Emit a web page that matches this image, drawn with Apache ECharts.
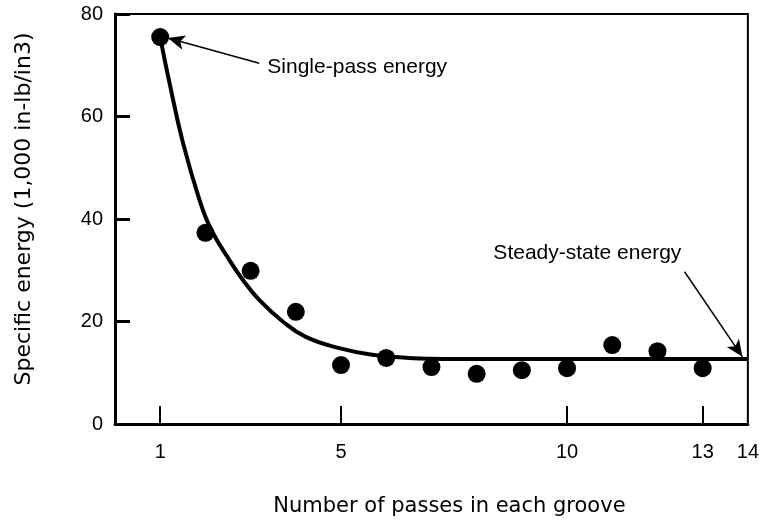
<!DOCTYPE html>
<html>
<head>
<meta charset="utf-8">
<title>Specific energy vs. number of passes</title>
<script src="https://cdn.jsdelivr.net/npm/echarts@6/dist/echarts.min.js"></script>
<style>
  html, body { margin: 0; padding: 0; background: #fff; }
  #chart { width: 762px; height: 524px; }
</style>
</head>
<body>
<div id="chart"></div>
<script>
// Measured specific energy for each pass number
const passes = [1, 2, 3, 4, 5, 6, 7, 8, 9, 10, 11, 12, 13];
const energy = [75.5, 37.3, 29.9, 21.9, 11.5, 12.9, 11.1, 9.8, 10.5, 10.9, 15.4, 14.2, 10.9];

// Trend curve through the data, levelling off at the steady-state value
const curvePasses = [1, 1.2, 1.5, 1.87, 2.13, 2.53, 2.83, 3.19, 3.71, 4.22, 4.96, 5.69, 6.5, 7.5, 14];
const curveEnergy = [75.5, 66.8, 55, 43.7, 37.9, 32, 28.1, 24.2, 20.0, 17.0, 14.8, 13.5, 12.9, 12.7, 12.7];

// Axis ticks and labels
const xTickValues = [1, 5, 10, 13];
const xLabelValues = [1, 5, 10, 13, 14];
const yTickLabels = [0, 20, 40, 60, 80];

// Annotations: text anchor and arrow tail/head in data units
const notes = [
  { text: 'Single-pass energy', at: [3.37, 69.7], tail: [3.19, 70.4], head: [1.17, 75.3] },
  { text: 'Steady-state energy', at: [8.37, 33.4], tail: [12.6, 29.7], head: [13.88, 13.1] }
];

const FONT = 'Liberation Sans, Arial, sans-serif';
const chart = echarts.init(document.getElementById('chart'), null, { renderer: 'canvas' });

const pair = (xs, ys) => xs.map((x, i) => [x, ys[i]]);

chart.setOption({
  animation: false,
  backgroundColor: '#fff',
  grid: {
    left: 115, right: 14, top: 14, bottom: 100,
    show: true, borderColor: '#000', borderWidth: 2, backgroundColor: 'transparent'
  },
  xAxis: {
    type: 'value', min: 0, max: 14,
    name: 'Number of passes in each groove',
    nameLocation: 'middle', nameGap: 72,
    nameTextStyle: { fontFamily: 'DejaVu Sans', fontSize: 21, color: '#000', padding: [0, 0, 0, 36] },
    splitLine: { show: false },
    axisLine: { show: true, lineStyle: { color: '#000', width: 3 } },
    axisTick: { show: true, inside: true, length: 18, lineStyle: { color: '#000', width: 2 }, customValues: xTickValues },
    axisLabel: { show: true, margin: 18, fontFamily: FONT, fontSize: 20, color: '#000', customValues: xLabelValues }
  },
  yAxis: {
    type: 'value', min: 0, max: 80, interval: 20,
    name: 'Specific energy (1,000 in-lb/in3)',
    nameLocation: 'middle', nameGap: 80,
    nameTextStyle: { fontFamily: 'DejaVu Sans', fontSize: 22, color: '#000', padding: [0, 0, 0, 20] },
    splitLine: { show: false },
    axisLine: { show: true, lineStyle: { color: '#000', width: 3 } },
    axisTick: { show: true, inside: true, length: 15, lineStyle: { color: '#000', width: 3 } },
    axisLabel: {
      show: true, margin: 12, fontFamily: FONT, fontSize: 20, color: '#000',
      formatter: v => (yTickLabels.indexOf(v) >= 0 ? String(v) : '')
    }
  },
  series: [
    {
      type: 'line',
      data: pair(curvePasses, curveEnergy),
      smooth: 0.45,
      showSymbol: false,
      lineStyle: { color: '#000', width: 4 },
      z: 2
    },
    {
      type: 'scatter',
      data: pair(passes, energy),
      symbol: 'circle',
      symbolSize: 18,
      itemStyle: { color: '#000', opacity: 1 },
      z: 3,
      markLine: {
        silent: true,
        symbol: ['none', 'arrow'],
        symbolSize: [11, 17],
        label: { show: false },
        lineStyle: { color: '#000', width: 1.5, type: 'solid', opacity: 1 },
        data: notes.map(n => [{ coord: n.tail }, { coord: n.head }])
      }
    }
  ]
});

// Annotation captions placed at their data-space anchors
chart.setOption({
  graphic: notes.map(n => {
    const p = chart.convertToPixel({ gridIndex: 0 }, n.at);
    return {
      type: 'text', x: p[0], y: p[1],
      style: { text: n.text, fontFamily: FONT, fontSize: 21, fill: '#000', textAlign: 'left', textVerticalAlign: 'middle' }
    };
  })
});
</script>
</body>
</html>
